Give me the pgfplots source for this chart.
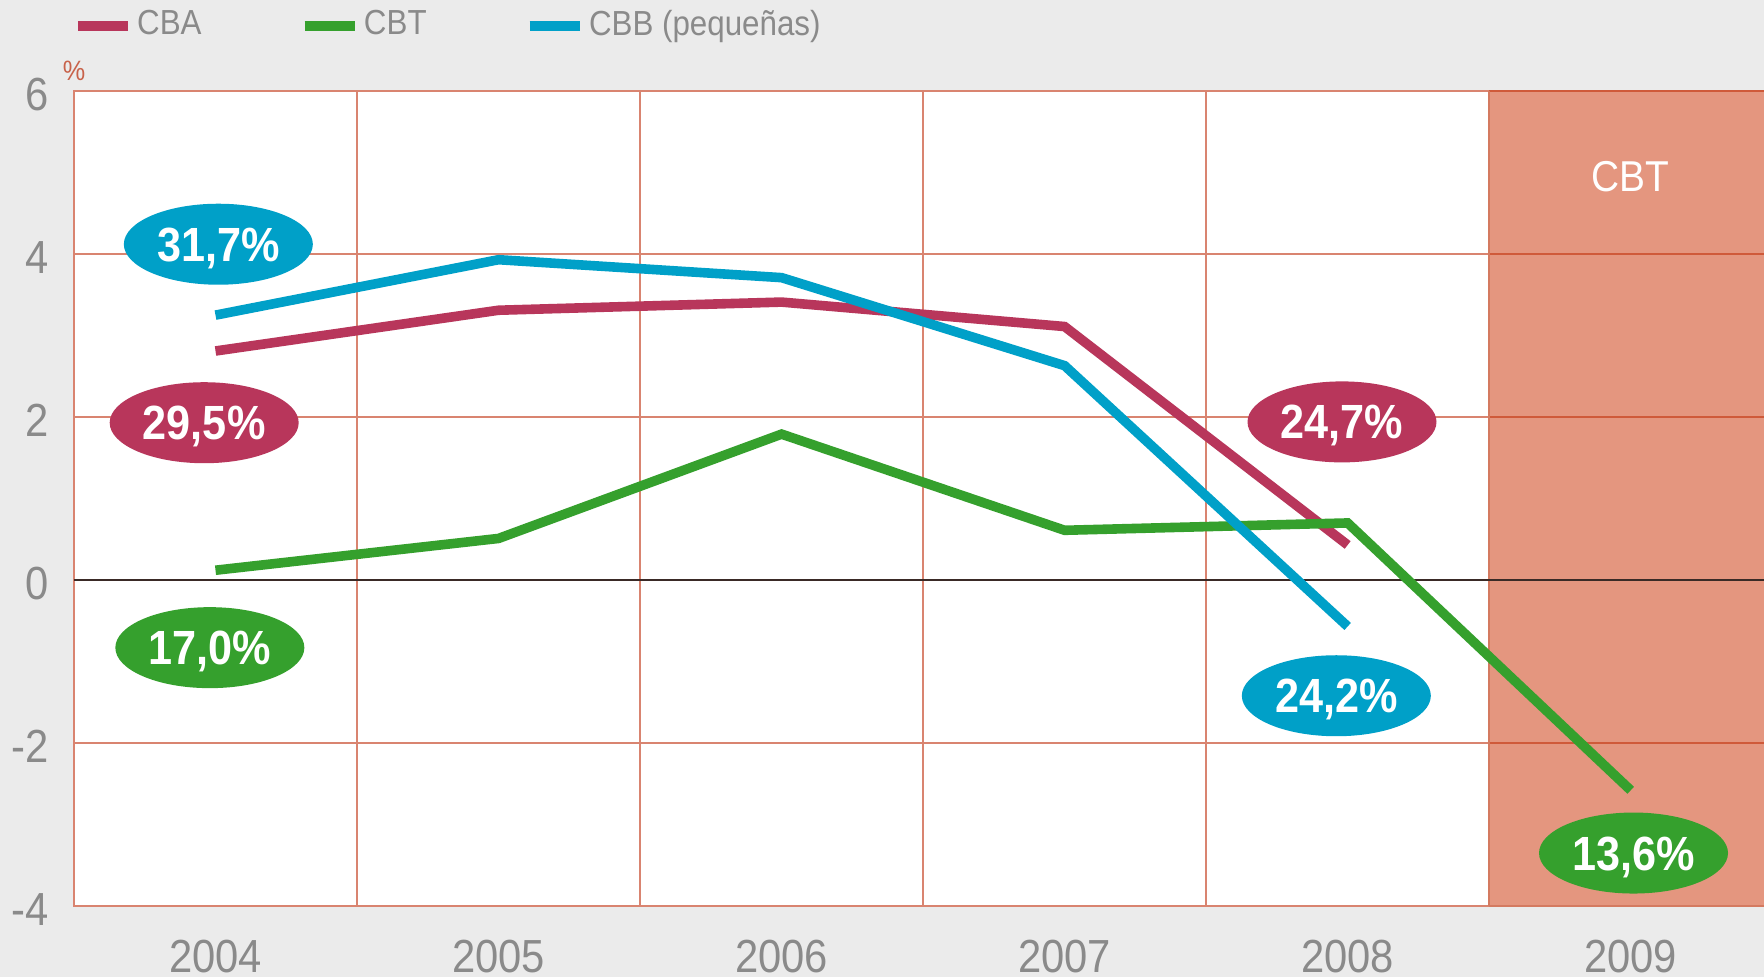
\documentclass[border=0pt]{standalone}
\usepackage{fontspec}
\setmainfont{Liberation Sans}[FakeStretch=0.9]
\usepackage{pgfplots}
\pgfplotsset{compat=1.18}
\usetikzlibrary{shapes.geometric}
\definecolor{bg}{HTML}{EBEBEB}
\definecolor{cba}{HTML}{B8365B}
\definecolor{cbt}{HTML}{35A02D}
\definecolor{cbb}{HTML}{00A0C8}
\definecolor{salmon}{HTML}{E4967F}
\definecolor{gridc}{HTML}{D98470}
\definecolor{gridd}{HTML}{CF5A3A}
\definecolor{edgec}{HTML}{D47A60}
\definecolor{txt}{HTML}{8A8A8A}
\definecolor{pct}{HTML}{C8624A}
\definecolor{zeroc}{HTML}{3A2A26}
\tikzset{lbl/.style={ellipse, fill=#1, minimum width=47.25pt, minimum height=20.25pt, inner sep=0pt, text=white,
  font=\bfseries\fontsize{12}{12}\selectfont, text height=8.5pt, text depth=0pt}}
\begin{document}
\begin{tikzpicture}
\fill[bg] (-18.5pt,-17.75pt) rectangle (422.5pt,226.5pt);
\begin{axis}[
  at={(0,0)}, anchor=south west,
  scale only axis, width=422.5pt, height=203.75pt,
  xmin=-0.5, xmax=5.471, ymin=-4, ymax=6,
  clip=false,
  axis line style={draw=none},
  major tick length=0pt,
  xtick={0,1,2,3,4,5}, xticklabels={2004,2005,2006,2007,2008,2009},
  ytick={-4,-2,0,2,4,6},
  tick label style={font=\fontsize{11.6}{12}\selectfont, text=txt},
  /pgf/number format/assume math mode=true,
  xticklabel style={yshift=-5pt},
  yticklabel style={xshift=-2.7pt, yshift=-0.9pt},
  legend columns=3,
  legend cell align=left,
  legend image code/.code={\draw[line width=2.5pt] (0pt,0pt) -- (12.5pt,0pt);},
  legend style={at={(axis description cs:0,1)}, anchor=south west, xshift=-0.5pt, yshift=12.2pt,
    draw=none, fill=none, inner sep=0pt, font=\fontsize{8.7}{10}\selectfont, text=txt,
    nodes={inner sep=0pt},
    /tikz/every odd column/.append style={column sep=1.1pt},
    /tikz/every even column/.append style={column sep=24.5pt}},
]
% background regions
\fill[white] (axis cs:-0.5,-4) rectangle (axis cs:4.5,6);
\fill[salmon] (axis cs:4.5,-4) rectangle (axis cs:5.471,6);
% grid
\pgfplotsinvokeforeach{0.5,1.5,2.5,3.5}{\draw[gridc, line width=0.4pt] (axis cs:#1,-4) -- (axis cs:#1,6);}
\pgfplotsinvokeforeach{-2,2,4}{
  \draw[gridc, line width=0.4pt] (axis cs:-0.5,#1) -- (axis cs:4.5,#1);
  \draw[gridd, line width=0.5pt] (axis cs:4.5,#1) -- (axis cs:5.471,#1);}
\draw[gridc, line width=0.6pt] (axis cs:4.5,6) -- (axis cs:-0.5,6) -- (axis cs:-0.5,-4) -- (axis cs:4.5,-4);
\draw[gridd, line width=0.6pt] (axis cs:4.5,6) -- (axis cs:5.471,6);
\draw[edgec, line width=0.6pt] (axis cs:4.5,-4) -- (axis cs:5.471,-4);
\draw[edgec, line width=0.6pt] (axis cs:4.5,-4) -- (axis cs:4.5,6);
\draw[zeroc, line width=0.5pt] (axis cs:-0.5,0) -- (axis cs:5.471,0);
% data
\addplot[cba, line width=2.4pt] coordinates {(0,2.81) (1,3.31) (2,3.41) (3,3.11) (4,0.43)};
\addlegendentry{CBA}
\addplot[cbt, line width=2.4pt] coordinates {(0,0.12) (1,0.51) (2,1.79) (3,0.61) (4,0.70) (5,-2.58)};
\addlegendentry{CBT}
\addplot[cbb, line width=2.4pt] coordinates {(0,3.25) (1,3.93) (2,3.71) (3,2.63) (4,-0.57)};
\addlegendentry{CBB (pequeñas)}
% labels
\node[lbl=cbb] at (axis cs:0.01,4.12) {31,7\%};
\node[lbl=cba] at (axis cs:-0.04,1.93) {29,5\%};
\node[lbl=cbt] at (axis cs:-0.02,-0.83) {17,0\%};
\node[lbl=cba] at (axis cs:3.98,1.94) {24,7\%};
\node[lbl=cbb] at (axis cs:3.96,-1.42) {24,2\%};
\node[lbl=cbt] at (axis cs:5.01,-3.35) {13,6\%};
\node[text=white, font=\fontsize{10.8}{12}\selectfont] at (axis cs:5.0,4.95) {CBT};
\node[text=pct, font=\fontsize{7}{8}\selectfont, yshift=5pt] at (axis cs:-0.5,6) {\%};
\end{axis}
\pgfresetboundingbox
\path (-18.5pt,-17.75pt) rectangle (422.5pt,226.5pt);
\end{tikzpicture}
\end{document}
